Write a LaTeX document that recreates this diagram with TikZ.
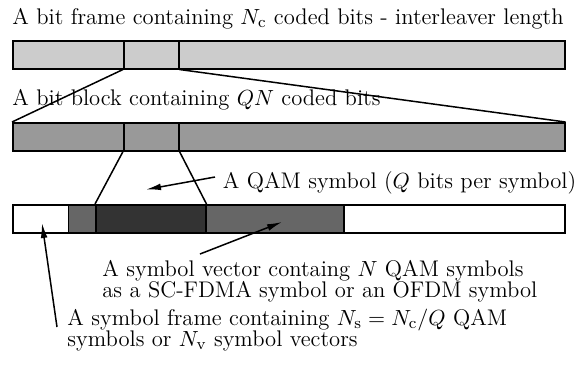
\documentclass[tikz,border=0pt]{standalone}
\usetikzlibrary{arrows.meta}
\newcommand{\labelfont}{\fontsize{11.3}{10.75}\selectfont\lineskiplimit-20pt\relax\lineskip0pt\relax}
\begin{document}
\begin{tikzpicture}[x=0.5pt,y=-0.5pt,
  seg/.style={draw=black,line width=0.75pt,rectangle,inner sep=0pt,anchor=north west,
    minimum height=14pt},
  link/.style={draw=black,line width=0.75pt},
  pointer/.style={draw=black,line width=0.75pt,-{Latex[length=7.5pt,width=3.4pt]}},
  lbl/.style={inner sep=0pt,anchor=base west,align=left,font=\labelfont}]
\useasboundingbox (0,0) rectangle (584,372);

% bit frame (interleaver length)
\node[lbl] (t1) at (12,24) {A bit frame containing $N_\mathrm{c}$ coded bits - interleaver length};
\node[seg,fill=black!20,minimum width=55.5pt] (f1) at (12,40) {};
\node[seg,fill=black!20,minimum width=27.5pt] (f2) at (123,40) {};
\node[seg,fill=black!20,minimum width=193pt] (f3) at (178,40) {};

% bit block
\node[lbl] (t2) at (12,105) {A bit block containing $QN$ coded bits};
\node[seg,fill=black!40,minimum width=55.5pt] (k1) at (12,122) {};
\node[seg,fill=black!40,minimum width=27.5pt] (k2) at (123,122) {};
\node[seg,fill=black!40,minimum width=193pt] (k3) at (178,122) {};

% symbol frame
\node[seg,fill=white,minimum width=27.75pt] (s1) at (12,204) {};
\node[seg,fill=black!60,minimum width=13.75pt] (s2) at (67.5,204) {};
\node[seg,fill=black!80,minimum width=55pt] (s3) at (95,204) {};
\node[seg,fill=black!60,minimum width=69pt] (s4) at (205,204) {};
\node[seg,fill=white,minimum width=110.5pt] (s5) at (343,204) {};

% expansion lines
\draw[link] (f2.south west) -- (k1.north west);
\draw[link] (f2.south east) -- (k3.north east);
\draw[link] (k2.south west) -- (s3.north west);
\draw[link] (k2.south east) -- (s3.north east);

% labels with pointers (two-line labels are anchored at their last baseline)
\node[lbl] (t3) at (222.5,188) {A QAM symbol ($Q$ bits per symbol)};
\coordinate (q0) at (215,177);
\coordinate (q1) at (146,189.5);
\draw[pointer] (q0) -- (q1);

\node[lbl] (t4) at (102,297.5) {A symbol vector containg $N$ QAM symbols\\as a SC-FDMA symbol or an OFDM symbol};
\coordinate (v0) at (200,254);
\coordinate (v1) at (282,222);
\draw[pointer] (v0) -- (v1);

\node[lbl] (t5) at (67,346.5) {A symbol frame containing $N_\mathrm{s}=N_\mathrm{c}/Q$ QAM\\symbols or $N_\mathrm{v}$ symbol vectors};
\coordinate (w0) at (57,327);
\coordinate (w1) at (42,223);
\draw[pointer] (w0) -- (w1);
\end{tikzpicture}
\end{document}
